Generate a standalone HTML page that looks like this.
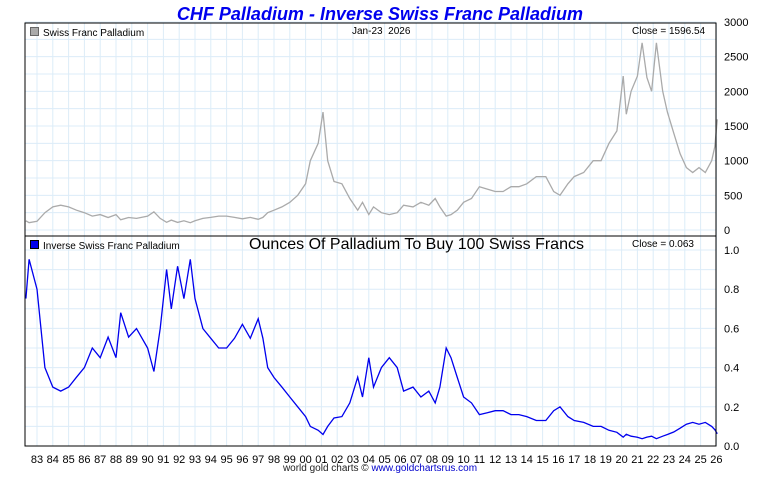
<!DOCTYPE html>
<html><head><meta charset="utf-8"><style>
body{margin:0;background:#fff;font-family:"Liberation Sans",sans-serif}
svg text{font-family:"Liberation Sans",sans-serif}
</style></head><body>
<svg id="c" width="760" height="475" xmlns="http://www.w3.org/2000/svg"></svg>
<script>
const years=[1982.3,1982.5,1983,1983.5,1984,1984.5,1985,1985.5,1986,1986.5,1987,1987.5,1988,1988.3,1988.8,1989.3,1990,1990.4,1990.8,1991.2,1991.5,1991.9,1992.3,1992.7,1993,1993.5,1994,1994.5,1995,1995.5,1996,1996.5,1997,1997.3,1997.6,1998,1998.5,1999,1999.5,2000,2000.3,2000.8,2001.1,2001.4,2001.8,2002.3,2002.8,2003.3,2003.6,2004,2004.3,2004.8,2005.3,2005.8,2006.2,2006.8,2007.3,2007.8,2008.2,2008.5,2008.9,2009.2,2009.6,2010,2010.5,2011,2011.5,2012,2012.5,2013,2013.5,2014,2014.6,2015.2,2015.7,2016.1,2016.6,2017,2017.6,2018.2,2018.7,2019.2,2019.7,2020.1,2020.3,2020.6,2021,2021.3,2021.6,2021.9,2022.2,2022.6,2022.9,2023.3,2023.7,2024.1,2024.5,2024.9,2025.3,2025.7,2025.9,2026.06];
const prices=[133,105,125,250,333,357,333,285,250,200,222,180,222,147,180,167,200,263,167,111,143,109,133,105,133,167,182,200,200,182,161,182,154,182,250,286,333,400,500,667,1000,1250,1700,1000,700,667,455,285,400,222,333,250,222,250,357,333,400,357,455,333,200,222,286,400,455,625,590,555,555,625,625,667,770,770,555,500,667,770,830,1000,1000,1250,1430,2220,1670,2000,2220,2700,2200,2000,2700,2000,1700,1400,1100,900,830,900,830,1000,1200,1596.54];
const topTicks=[0,500,1000,1500,2000,2500,3000];
const botTicks=[0.0,0.2,0.4,0.6,0.8,1.0];
const yearLabels=[83,84,85,86,87,88,89,90,91,92,93,94,95,96,97,98,99,"00","01","02","03","04","05","06","07","08","09",10,11,12,13,14,15,16,17,18,19,20,21,22,23,24,25,26];
const S="http://www.w3.org/2000/svg",svg=document.getElementById('c');
function el(t,a,p){const e=document.createElementNS(S,t);for(const k in a)e.setAttribute(k,a[k]);(p||svg).appendChild(e);return e;}
const L=25,R=716;
const x=y=>37+(y-1983)*15.8;
const yTop=v=>230-v*(208/3000);
const yBot=v=>446-v*196;
const g=el('g',{});
for(let yr=1983;yr<=2026;yr++){el('line',{x1:x(yr),x2:x(yr),y1:23,y2:446,stroke:'#dcecf8','stroke-width':1},g);}
for(let v=0;v<=3000;v+=250){el('line',{x1:L,x2:R,y1:yTop(v),y2:yTop(v),stroke:'#dcecf8'},g);}
for(let v=0;v<=1.0001;v+=0.1){el('line',{x1:L,x2:R,y1:yBot(v),y2:yBot(v),stroke:'#dcecf8'},g);}
let p1='',p2='';
years.forEach((yr,i)=>{p1+=(i?'L':'M')+x(yr).toFixed(1)+','+yTop(prices[i]).toFixed(1);p2+=(i?'L':'M')+x(yr).toFixed(1)+','+yBot(100/prices[i]).toFixed(1);});
const l1=el('path',{d:p1,fill:'none',stroke:'#aaaaaa','stroke-width':1.3});

const l2=el('path',{d:p2,fill:'none',stroke:'#0000ee','stroke-width':1.3});

el('rect',{x:L,y:23,width:R-L,height:423,fill:'none',stroke:'#000'});
el('line',{x1:L,x2:R,y1:236,y2:236,stroke:'#000'});
topTicks.forEach(v=>{const t=el('text',{x:724,y:yTop(v)+4,'font-size':11});t.textContent=v;});
botTicks.forEach(v=>{const t=el('text',{x:724,y:yBot(v)+4,'font-size':11});t.textContent=v.toFixed(1);});
yearLabels.forEach((lb,i)=>{const t=el('text',{x:x(1983+i),y:463,'font-size':11,'text-anchor':'middle'});t.textContent=lb;});
</script>
<div style="position:absolute;left:0;top:2px;width:760px;text-align:center;font:italic bold 18px 'Liberation Sans',sans-serif;color:#0000ee;line-height:24px">CHF Palladium - Inverse Swiss Franc Palladium</div>
<div style="position:absolute;left:30px;top:27px;font-size:10px"><span style="display:inline-block;width:7px;height:7px;background:#aaa;border:1px solid #666;margin-right:4px"></span>Swiss Franc Palladium</div>
<div style="position:absolute;left:352px;top:26px;font-size:10px">Jan-23&nbsp; 2026</div>
<div style="position:absolute;left:632px;top:26px;font-size:10px">Close = 1596.54</div>
<div style="position:absolute;left:30px;top:240px;font-size:10px"><span style="display:inline-block;width:7px;height:7px;background:#0000ee;border:1px solid #000;margin-right:4px"></span>Inverse Swiss Franc Palladium</div>
<div style="position:absolute;left:249px;top:236px;font-size:16px">Ounces Of Palladium To Buy 100 Swiss Francs</div>
<div style="position:absolute;left:632px;top:239px;font-size:10px">Close = 0.063</div>
<div style="position:absolute;left:0;top:463px;width:760px;text-align:center;font-size:10px;color:#222">world gold charts © <span style="color:#0000cc">www.goldchartsrus.com</span></div>
</body></html>
